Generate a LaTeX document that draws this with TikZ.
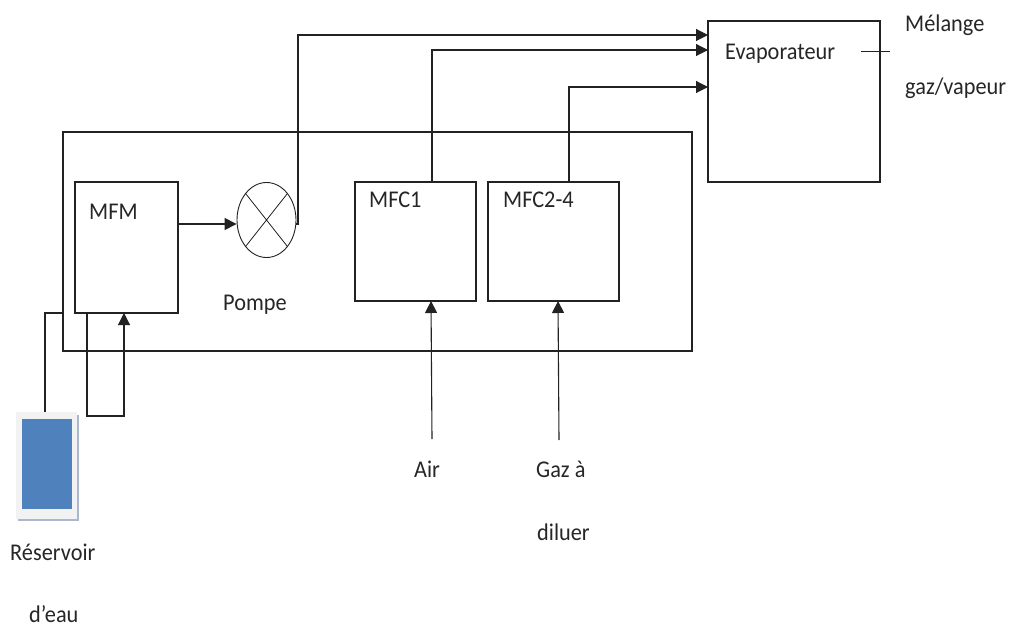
\documentclass[tikz,border=0pt]{standalone}
\usepackage{fontspec}
\setmainfont{Carlito}
\usetikzlibrary{arrows.meta,shapes.geometric}
\definecolor{linecol}{HTML}{222222}
\definecolor{waterblue}{HTML}{4F81BD}
\definecolor{framegrey}{HTML}{F2F2F2}
\definecolor{shadowblue}{HTML}{A9B8CF}
\tikzset{
  box/.style={draw=linecol,line width=1.1pt,rectangle,inner sep=0pt},
  wire/.style={draw=linecol,line width=1.1pt},
  arr/.style={wire,-{Triangle[length=12pt,width=12pt]}},
  lbl/.style={inner sep=0pt,text=black!85,font=\fontsize{24}{24}\selectfont,xscale=0.93,anchor=base west},
}
\begin{document}
\begin{tikzpicture}[x=1pt,y=-1pt]
\useasboundingbox (0,0) rectangle (1011,628);
% reservoir
\fill[shadowblue] (18,415) rectangle (79,521);
\node[rectangle,fill=framegrey,inner sep=0pt,minimum width=61pt,minimum height=107pt] (resframe) at (46.5,465.5) {};
\node[rectangle,fill=waterblue,inner sep=0pt,minimum width=50pt,minimum height=90pt] (res) at (46.5,464) {};
% boxes
\node[box,minimum width=629pt,minimum height=219pt] (outer) at (377.5,241.5) {};
\node[box,fill=white,minimum width=103pt,minimum height=131pt] (mfm) at (126.5,247.5) {};
\node[box,fill=white,minimum width=121pt,minimum height=119pt] (mfca) at (415.5,241.5) {};
\node[box,fill=white,minimum width=131pt,minimum height=119pt] (mfcb) at (553.5,241.5) {};
\node[box,fill=white,minimum width=172pt,minimum height=161pt] (evap) at (794,101.5) {};
\node[ellipse,draw=linecol,line width=0.9pt,fill=white,inner sep=0pt,minimum width=59pt,minimum height=75pt] (pump) at (266.5,220) {};
\draw[draw=linecol,line width=0.8pt] (pump.north west) -- (pump.south east) (pump.north east) -- (pump.south west);
% ports
\coordinate (pumpout) at (296,224);
\coordinate (e1) at (708,35);
\coordinate (e2) at (708,50);
\coordinate (e3) at (708,87);
\coordinate (a1) at (432,182);
\coordinate (b1) at (569,182);
\coordinate (mfmin) at (178,224);
\coordinate (airsrc) at (432,439);
\coordinate (airin) at (431,301);
\coordinate (gazsrc) at (559,440);
\coordinate (gazin) at (558,301);
\coordinate (loopa) at (87,313);
\coordinate (loopb) at (124,313);
\coordinate (resout) at (45,412);
\coordinate (resin) at (63,313);
\coordinate (tickl) at (861,51);
\coordinate (tickr) at (890,51);
% connectors
\draw[arr,line width=1.5pt] (mfmin) -- (pump.west |- mfmin);
\draw[arr] (pumpout) -| (298,35) -- (e1);
\draw[arr] (a1) |- (e2);
\draw[arr] (b1) |- (e3);
\draw[arr] (airsrc) -- (airin);
\draw[arr] (gazsrc) -- (gazin);
\draw[arr] (loopa) -- (87,416) -- (124,416) -- (loopb);
\draw[wire] (resout) |- (resin);
\draw[draw=linecol,line width=0.8pt] (tickl) -- (tickr);
% labels
\node[lbl] (tmfm) at (89,220) {MFM};
\node[lbl] (tpompe) at (223,310) {Pompe};
\node[lbl] (tmfca) at (369,208) {MFC1};
\node[lbl] (tmfcb) at (503,208) {MFC2-4};
\node[lbl] (tevap) at (725,60) {Evaporateur};
\node[lbl] (tmel) at (905,32) {Mélange};
\node[lbl] (tgaz) at (905,95) {gaz/vapeur};
\node[lbl] (tair) at (414,477) {Air};
\node[lbl] (tgaza) at (536,477) {Gaz à};
\node[lbl] (tdil) at (537,540) {diluer};
\node[lbl] (tres) at (10,560) {Réservoir};
\node[lbl] (teau) at (29,622) {d’eau};
\end{tikzpicture}
\end{document}
